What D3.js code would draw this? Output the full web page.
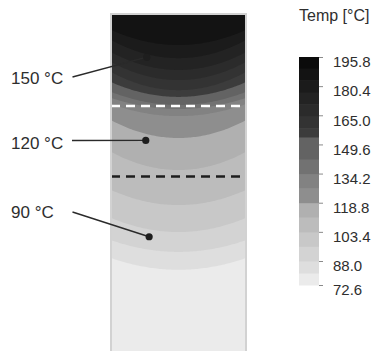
<!DOCTYPE html>
<html>
<head>
<meta charset="utf-8">
<script src="https://cdn.jsdelivr.net/npm/d3@7"></script>
<style>
  html, body { margin: 0; padding: 0; background: #fff; }
  svg { display: block; font-family: "Liberation Sans", Arial, sans-serif; }
</style>
</head>
<body>
<svg id="chart" width="381" height="351"></svg>
<script>
// ---------- DATA ----------
// Colour bar: band edges (°C) and grey of each band (low -> high)
const bandEdges = [72.6, 80.3, 88.0, 95.7, 103.4, 111.1, 118.8, 126.5, 134.2, 141.9, 153.5, 158.2, 164.6, 170.9, 177.3, 183.6, 190.0, 195.8];
const bandGreys = ["#ebebeb", "#dedede", "#d3d3d3", "#c8c8c8", "#bcbcbc", "#b0b0b0", "#8e8e8e", "#828282", "#727272", "#636363", "#3c3c3c", "#333333", "#2b2b2b", "#232323", "#1b1b1b", "#131313", "#0b0b0b"];
const tickValues = [195.8, 180.4, 165.0, 149.6, 134.2, 118.8, 103.4, 88.0, 72.6];
const tickLabels = ["195.8", "180.4", "165.0", "149.6", "134.2", "118.8", "103.4", "88.0", "72.6"];

// Isotherms in the field: temperature, depth at centre line and depth at wall (mm)
const isoTemps       = [80.3, 88.0, 95.7, 103.4, 111.1, 118.8, 126.5, 134.2, 141.9, 153.5, 158.2, 164.6, 170.9, 177.3, 183.6];
const isoCenterDepth = [75.9, 70.6, 64.7, 56.7, 46.3, 36.8, 30.3, 28.2, 27.0, 24.6, 22.6, 19.6, 16.6, 13.1, 9.2];
const isoWallDepth   = [72.4, 67.1, 60.5, 52.2, 40.9, 31.5, 26.7, 24.9, 23.1, 20.2, 17.2, 14.2, 11.3, 7.7, 4.7];

// Dashed level lines (depth, mm)
const dashDepths = [27.3, 48.2];
const dashColors = ["#ffffff", "#1e1e1e"];

// Annotations
const annoLabels = ["150 °C", "120 °C", "90 °C"];
const annoX      = [-9.4, -9.7, -8.7];   // mm from centre line
const annoDepth  = [12.8, 37.5, 66.1];   // mm

// ---------- LAYOUT ----------
const svg = d3.select("#chart");
const fieldHalfWidth = 20, fieldDepth = 100;
const x = d3.scaleLinear([-fieldHalfWidth, fieldHalfWidth], [111, 246]);
const y = d3.scaleLinear([0, fieldDepth], [14, 351]);
const color = d3.scaleThreshold().domain(bandEdges.slice(1, -1)).range(bandGreys);

// clip
svg.append("defs").append("clipPath").attr("id", "fieldClip")
  .append("rect").attr("x", x(-20)).attr("y", y(0)).attr("width", x(20) - x(-20)).attr("height", 400);

const field = svg.append("g").attr("clip-path", "url(#fieldClip)");
field.append("rect")
  .attr("x", x(-20)).attr("y", y(0)).attr("width", x(20) - x(-20)).attr("height", 400)
  .attr("fill", color(bandEdges[0]));

const xs = d3.range(-fieldHalfWidth, fieldHalfWidth + 0.001, 0.5);
isoTemps.forEach((t, i) => {
  const c = isoCenterDepth[i], w = isoWallDepth[i];
  const depth = xv => c - (c - w) * Math.pow(xv / fieldHalfWidth, 2);
  const area = d3.area()
    .x(d => x(d))
    .y0(y(0) - 2)
    .y1(d => y(depth(d)));
  field.append("path").datum(xs).attr("d", area).attr("fill", color(t));
});

// dashed lines
dashDepths.forEach((d, i) => {
  field.append("line")
    .attr("x1", x(-20)).attr("x2", x(20))
    .attr("y1", y(d)).attr("y2", y(d))
    .attr("stroke", dashColors[i]).attr("stroke-width", 2.5)
    .attr("stroke-dasharray", "9,6");
});

// border
svg.append("rect")
  .attr("x", x(-20)).attr("y", y(0)).attr("width", x(20) - x(-20)).attr("height", 400)
  .attr("fill", "none").attr("stroke", "#d2d2d2").attr("stroke-width", 2);

// annotations
const labelPos = [[11, 84], [11, 149], [11, 218]];
const lineStart = [[72.5, 77], [72, 140.5], [72.5, 212]];
annoLabels.forEach((lab, i) => {
  svg.append("text").attr("x", labelPos[i][0]).attr("y", labelPos[i][1])
    .attr("font-size", 17).attr("fill", "#2e2e2e").text(lab);
  svg.append("line")
    .attr("x1", lineStart[i][0]).attr("y1", lineStart[i][1])
    .attr("x2", x(annoX[i])).attr("y2", y(annoDepth[i]))
    .attr("stroke", "#2a2a2a").attr("stroke-width", 1.4);
  svg.append("circle").attr("cx", x(annoX[i])).attr("cy", y(annoDepth[i]))
    .attr("r", 3.6).attr("fill", "#1e1e1e");
});

// ---------- COLOUR BAR ----------
const cb = d3.scaleLinear().domain([195.8, 88.0, 72.6]).range([57, 261, 285]);
const cbX = 299, cbW = 20;
const bands = d3.range(bandGreys.length).map(i => ({ lo: bandEdges[i], hi: bandEdges[i + 1] }));
svg.append("g").selectAll("rect").data(bands).join("rect")
  .attr("x", cbX).attr("width", cbW)
  .attr("y", d => cb(d.hi)).attr("height", d => cb(d.lo) - cb(d.hi) + 0.5)
  .attr("fill", d => color(d.lo));

const axis = d3.axisRight(cb).tickValues(tickValues)
  .tickFormat((d, i) => tickLabels[i]).tickSize(4).tickPadding(10);
const ag = svg.append("g").attr("transform", `translate(${cbX + cbW},0)`).call(axis);
ag.select(".domain").remove();
ag.selectAll(".tick line").attr("stroke", "#8a8a8a");
ag.selectAll(".tick text").attr("font-size", 15).attr("fill", "#2e2e2e")
  .attr("font-family", "Liberation Sans, Arial, sans-serif").attr("dy", "0.65em");

svg.append("text").attr("x", 299).attr("y", 21).attr("font-size", 16)
  .attr("fill", "#2e2e2e").text("Temp [°C]");
</script>
</body>
</html>
